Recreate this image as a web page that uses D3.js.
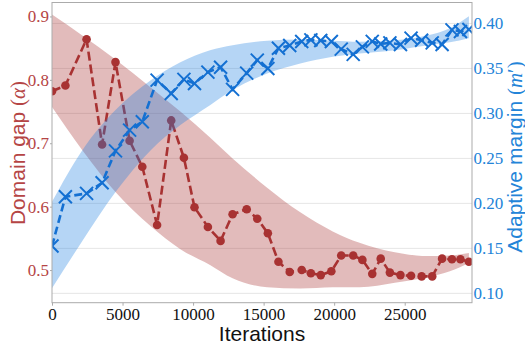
<!DOCTYPE html>
<html>
<head>
<meta charset="utf-8">
<script src="https://cdn.jsdelivr.net/npm/d3@7"></script>
<style>
  body { margin: 0; background: #fff; }
  .tick text { font-family: "Liberation Serif", serif; font-size: 17px; }
  .axis-title { font-family: "Liberation Sans", Arial, sans-serif; font-size: 21px; }
  .math { font-family: "Liberation Serif", serif; }
</style>
</head>
<body>
<svg id="chart" width="525" height="352"></svg>
<script>
// points (shared x for both series)
const iterations = [0, 950, 2450, 3550, 4500, 5500, 6400, 7450, 8450, 9350, 10100, 11050, 11950, 12800,
  13800, 14550, 15300, 16050, 16850, 17700, 18350, 19050, 19800, 20500, 21350, 22000, 22700, 23300,
  23950, 24700, 25450, 26200, 26950, 27650, 28350, 28950, 29550];
const domainGap = [0.782, 0.791, 0.864, 0.698, 0.828, 0.704, 0.663, 0.571, 0.736, 0.677, 0.599, 0.568,
  0.546, 0.588, 0.596, 0.581, 0.558, 0.513, 0.497, 0.500, 0.495, 0.492, 0.498, 0.523, 0.523, 0.516,
  0.494, 0.518, 0.496, 0.492, 0.491, 0.490, 0.490, 0.518, 0.517, 0.517, 0.513];
const adaptiveMargin = [0.1526, 0.2073, 0.2111, 0.2229, 0.2584, 0.2814, 0.2907, 0.337, 0.3222, 0.3378,
  0.3333, 0.3459, 0.3514, 0.3267, 0.3448, 0.3592, 0.350, 0.3725, 0.3755, 0.380, 0.3818, 0.381, 0.380,
  0.3715, 0.3656, 0.374, 0.3801, 0.3772, 0.3784, 0.3767, 0.3837, 0.3814, 0.3784, 0.3767, 0.3929,
  0.3911, 0.3933];

// shaded trend bands
const bandIterations = [0, 2150, 4500, 7000, 9100, 11200, 12800, 15250, 17600, 19900, 21800, 24300,
  26650, 28200, 29550];
const gapHigh = [0.903, 0.870, 0.832, 0.788, 0.750, 0.709, 0.676, 0.630, 0.591, 0.561, 0.543, 0.528,
  0.522, 0.523, 0.527];
const gapLow = [0.757, 0.689, 0.623, 0.569, 0.533, 0.508, 0.487, 0.473, 0.471, 0.473, 0.473, 0.480,
  0.489, 0.498, 0.511];
const marginHigh = [0.2018, 0.2592, 0.3037, 0.337, 0.357, 0.3703, 0.3759, 0.3807, 0.3822, 0.3809,
  0.3798, 0.3814, 0.387, 0.3948, 0.4081];
const marginLow = [0.1056, 0.1581, 0.2126, 0.2592, 0.287, 0.3092, 0.3259, 0.3444, 0.3556, 0.3629,
  0.3667, 0.3703, 0.3759, 0.3792, 0.3837];

const xTicks = [0, 5000, 10000, 15000, 20000, 25000];
const gapTicks = [0.5, 0.6, 0.7, 0.8, 0.9];
const marginTicks = [0.10, 0.15, 0.20, 0.25, 0.30, 0.35, 0.40];

const width = 525, height = 352;
const margin = { left: 52, right: 53, top: 2.5, bottom: 49.3 };
const w = width - margin.left - margin.right;
const h = height - margin.top - margin.bottom;

const red = '#a83232', blue = '#1470d2';
const redText = '#b54545', blueText = '#2384d8';

const svg = d3.select('#chart');
const g = svg.append('g').attr('transform', `translate(${margin.left},${margin.top})`);

const x = d3.scaleLinear().domain([0, 29770]).range([0, w]);
const yGap = d3.scaleLinear().domain([0.4485, 0.922]).range([h, 0]);
const yMargin = d3.scaleLinear().domain([0.0896, 0.4233]).range([h, 0]);

// grid follows the right axis
g.append('g').selectAll('line')
  .data(marginTicks)
  .enter().append('line')
  .attr('x1', 0).attr('x2', w)
  .attr('y1', d => yMargin(d)).attr('y2', d => yMargin(d))
  .attr('stroke', '#e6e6e6').attr('stroke-width', 1);

svg.append('defs').append('clipPath').attr('id', 'clip')
  .append('rect').attr('width', w).attr('height', h);
const plot = g.append('g').attr('clip-path', 'url(#clip)');

const gapBand = bandIterations.map((it, i) => ({ it, lo: gapLow[i], hi: gapHigh[i] }));
const marginBand = bandIterations.map((it, i) => ({ it, lo: marginLow[i], hi: marginHigh[i] }));
const gapPts = iterations.map((it, i) => ({ it, v: domainGap[i] }));
const marginPts = iterations.map((it, i) => ({ it, v: adaptiveMargin[i] }));

/// red band, then red series
plot.append('path')
  .datum(gapBand)
  .attr('fill', red).attr('fill-opacity', 0.33)
  .attr('d', d3.area().x(d => x(d.it)).y0(d => yGap(d.lo)).y1(d => yGap(d.hi)).curve(d3.curveMonotoneX));

plot.append('path')
  .datum(gapPts)
  .attr('fill', 'none').attr('stroke', red).attr('stroke-width', 2.6)
  .attr('stroke-dasharray', '9,4')
  .attr('d', d3.line().x(d => x(d.it)).y(d => yGap(d.v)));

plot.append('g').selectAll('circle')
  .data(gapPts)
  .enter().append('circle')
  .attr('cx', d => x(d.it)).attr('cy', d => yGap(d.v))
  .attr('r', 4.3).attr('fill', red);

/// blue band drawn over the red series
plot.append('path')
  .datum(marginBand)
  .attr('fill', '#1f7fe0').attr('fill-opacity', 0.33)
  .attr('d', d3.area().x(d => x(d.it)).y0(d => yMargin(d.lo)).y1(d => yMargin(d.hi)).curve(d3.curveMonotoneX));

plot.append('path')
  .datum(marginPts)
  .attr('fill', 'none').attr('stroke', blue).attr('stroke-width', 2.6)
  .attr('stroke-dasharray', '8,4')
  .attr('d', d3.line().x(d => x(d.it)).y(d => yMargin(d.v)));

const s = 6.5;
plot.append('g').selectAll('path')
  .data(marginPts)
  .enter().append('path')
  .attr('transform', d => `translate(${x(d.it)},${yMargin(d.v)})`)
  .attr('d', `M${-s},${-s}L${s},${s}M${-s},${s}L${s},${-s}`)
  .attr('stroke', blue).attr('stroke-width', 2).attr('fill', 'none');

// frame
g.append('rect')
  .attr('width', w).attr('height', h)
  .attr('fill', 'none').attr('stroke', '#ababab').attr('stroke-width', 1);

/// axes
const xAxis = g.append('g').attr('transform', `translate(0,${h})`)
  .call(d3.axisBottom(x).tickValues(xTicks).tickSize(3).tickPadding(2).tickFormat(d3.format('d')));
xAxis.select('.domain').remove();
xAxis.selectAll('line').attr('stroke', '#ababab');
xAxis.selectAll('text').attr('fill', '#111');

const yAxisL = g.append('g')
  .call(d3.axisLeft(yGap).tickValues(gapTicks).tickSize(2).tickPadding(1).tickFormat(d3.format('.1f')));
yAxisL.select('.domain').remove();
yAxisL.selectAll('line').attr('stroke', '#ababab');
yAxisL.selectAll('text').attr('fill', redText);

const yAxisR = g.append('g').attr('transform', `translate(${w},0)`)
  .call(d3.axisRight(yMargin).tickValues(marginTicks).tickSize(0).tickPadding(1.5).tickFormat(d3.format('.2f')));
yAxisR.select('.domain').remove();
yAxisR.selectAll('text').attr('fill', blueText);

/// titles
svg.append('text').attr('class', 'axis-title')
  .attr('x', 262).attr('y', 341)
  .attr('text-anchor', 'middle').attr('fill', '#111')
  .text('Iterations');

const tl = svg.append('text').attr('class', 'axis-title')
  .attr('transform', 'translate(25,153) rotate(-90)')
  .attr('text-anchor', 'middle').attr('fill', redText);
tl.append('tspan').text('Domain gap ');
tl.append('tspan').attr('class', 'math').text('(');
tl.append('tspan').attr('class', 'math').attr('font-style', 'italic').text('α');
tl.append('tspan').attr('class', 'math').text(')');

const tr = svg.append('text').attr('class', 'axis-title')
  .attr('transform', 'translate(521.5,157) rotate(-90)')
  .attr('text-anchor', 'middle').attr('fill', blueText);
tr.append('tspan').text('Adaptive margin ');
tr.append('tspan').attr('class', 'math').text('(');
tr.append('tspan').attr('class', 'math').attr('font-style', 'italic').text('m');
tr.append('tspan').attr('class', 'math').text('′)');
</script>
</body>
</html>
